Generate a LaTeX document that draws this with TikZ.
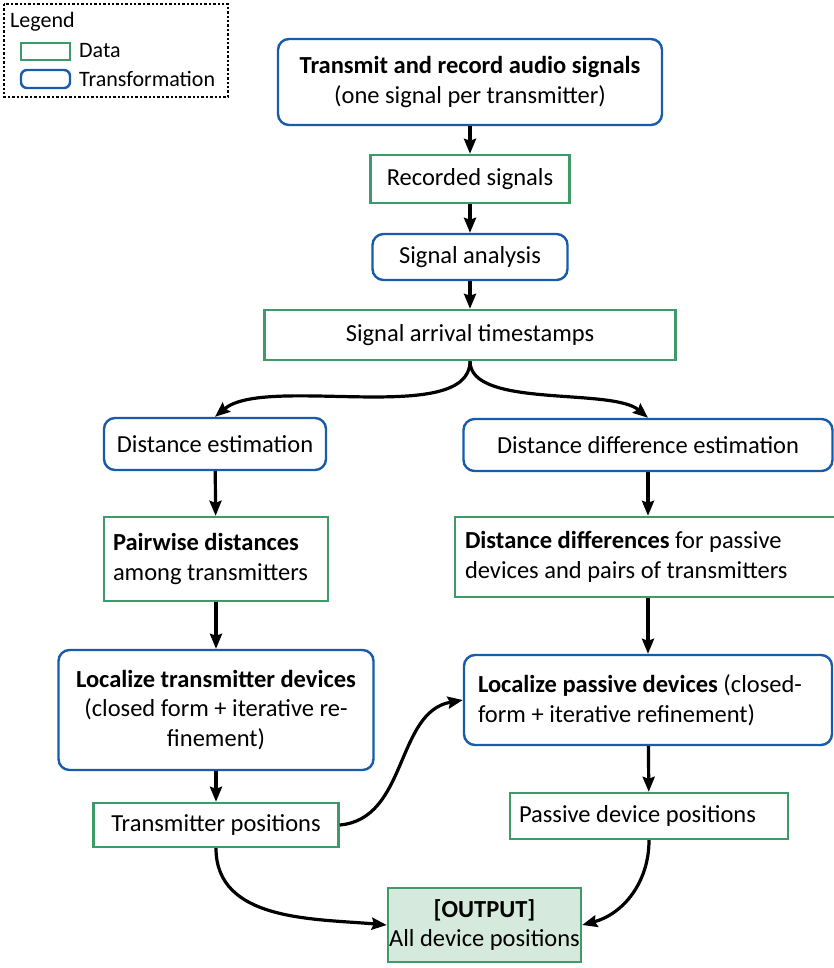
\documentclass[tikz,border=0pt]{standalone}
\usepackage{fontspec}
\setmainfont{Carlito}
\usetikzlibrary{arrows.meta}
\definecolor{datagreen}{RGB}{60,155,105}
\definecolor{trafoblue}{RGB}{22,92,170}
\definecolor{outfill}{RGB}{214,233,221}

\begin{document}
\begin{tikzpicture}[x=1pt, y=1pt,
		data/.style={draw=datagreen, line width=2.4pt, inner sep=0pt, align=center, font=\fontsize{24.5}{29.5}\selectfont},
		trafo/.style={draw=trafoblue, line width=2.4pt, rounded corners=11pt, inner sep=0pt, align=center, font=\fontsize{24.5}{29.5}\selectfont},
		flow/.style={-{Stealth[length=15pt, width=12pt, inset=2pt]}, line width=3.2pt},
		legtext/.style={anchor=west, inner sep=0pt, font=\fontsize{22}{26}\selectfont}]
		\useasboundingbox (0,0) rectangle (833,-968);
		% legend
		\draw [dotted, line width=2.4pt] (4,-4) rectangle (228,-97);
		\node (legend) at (10,-22) [legtext] {Legend};
		\draw [datagreen, line width=2.4pt] (21,-43) rectangle (70,-60);
		\node (legdata) at (79,-51) [legtext] {Data};
		\draw [trafoblue, line width=2.4pt, rounded corners=6pt] (21,-70) rectangle (70,-88);
		\node (legtrafo) at (79,-79) [legtext] {Transformation};
		% main column
		\node (trans) at (470,-82) [trafo, minimum width=384pt, minimum height=86pt] {\textbf{Transmit and record audio signals}\\(one signal per transmitter)};
		\node (rec) at (470,-179) [data, minimum width=199pt, minimum height=48pt] {Recorded signals};
		\node (ana) at (470,-257) [trafo, minimum width=195pt, minimum height=46pt] {Signal analysis};
		\node (ts) at (470,-335) [data, minimum width=411pt, minimum height=50pt] {Signal arrival timestamps};
		% left branch
		\node (dest) at (215,-444) [trafo, minimum width=222pt, minimum height=52pt] {Distance estimation};
		\node (pair) at (216,-559) [data, minimum width=224pt, minimum height=84pt, text width=206pt, align=flush left] {\textbf{Pairwise distances}\\among transmitters};
		\node (loct) at (216,-710) [trafo, minimum width=315pt, minimum height=120pt] {\textbf{Localize transmitter devices}\\(closed form + iterative re-\\finement)};
		\node (tpos) at (216,-825) [data, minimum width=245pt, minimum height=44pt] {Transmitter positions};
		% right branch
		\node (ddest) at (648,-445) [trafo, minimum width=369pt, minimum height=52pt] {Distance difference estimation};
		\node (ddiff) at (645,-557) [data, minimum width=380pt, minimum height=80pt, text width=360pt, align=flush left] {\textbf{Distance differences} for passive\\devices and pairs of transmitters};
		\node (locp) at (648,-700) [trafo, minimum width=368pt, minimum height=90pt, text width=340pt, align=flush left] {\textbf{Localize passive devices} (closed-\\form + iterative refinement)};
		\node (ppos) at (649,-816) [data, minimum width=278pt, minimum height=46pt, text width=260pt, align=flush left] {Passive device positions};
		% result
		\node (out) at (484.5,-925) [data, fill=outfill, minimum width=193pt, minimum height=74pt] {\textbf{[OUTPUT]}\\All device positions};
		% connectors
		\draw [flow] (trans) -- (rec);
		\draw [flow] (rec) -- (ana);
		\draw [flow] (ana) -- (ts);
		\draw [flow] (ts.south) to [out=-90, in=40, looseness=0.65] (dest.north);
		\draw [flow] (ts.south) to [out=-90, in=140, looseness=0.65] (ddest.north);
		\draw [flow] (dest) -- (pair);
		\draw [flow] (pair) -- (loct);
		\draw [flow] (loct) -- (tpos);
		\draw [flow] (ddest.south) -- (ddest.south |- ddiff.north);
		\draw [flow] (ddest.south |- ddiff.south) -- (ddest.south |- locp.north);
		\draw [flow] (locp) -- (ppos);
		\draw [flow] (tpos.east) to [out=5, in=190] (locp.west);
		\draw [flow] (tpos.south) to [out=-90, in=175] (out.west);
		\draw [flow] (ppos.south) to [out=-90, in=15] (out.east);
	\end{tikzpicture}
\end{document}
